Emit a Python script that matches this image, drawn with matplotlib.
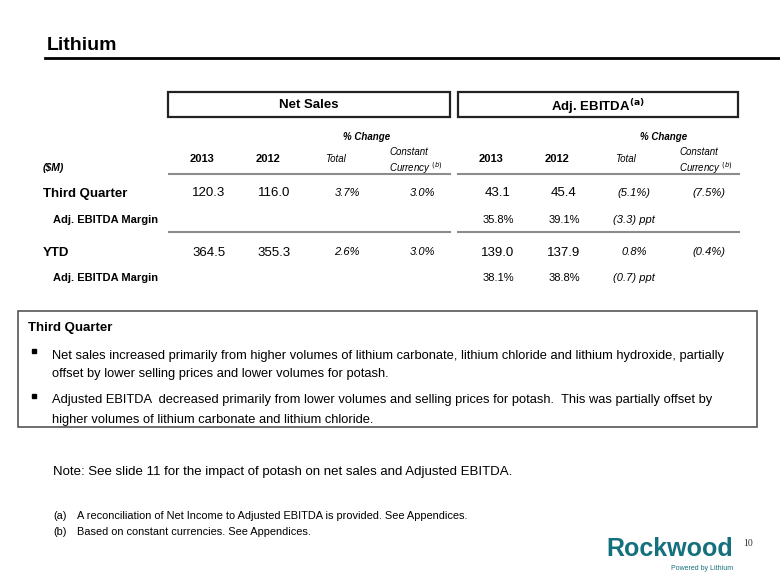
import matplotlib
matplotlib.use("Agg")
import matplotlib.pyplot as plt
from matplotlib.patches import Rectangle

title = "Lithium"
row_labels = ["Third Quarter", "Adj. EBITDA Margin", "YTD", "Adj. EBITDA Margin"]
ns_2013 = ["120.3", "", "364.5", ""]
ns_2012 = ["116.0", "", "355.3", ""]
ns_total = ["3.7%", "", "2.6%", ""]
ns_cc = ["3.0%", "", "3.0%", ""]
eb_2013 = ["43.1", "35.8%", "139.0", "38.1%"]
eb_2012 = ["45.4", "39.1%", "137.9", "38.8%"]
eb_total = ["(5.1%)", "(3.3) ppt", "0.8%", "(0.7) ppt"]
eb_cc = ["(7.5%)", "", "(0.4%)", ""]
box_heading = "Third Quarter"
bullets = [
    ["Net sales increased primarily from higher volumes of lithium carbonate, lithium chloride and lithium hydroxide, partially",
     "offset by lower selling prices and lower volumes for potash."],
    ["Adjusted EBITDA  decreased primarily from lower volumes and selling prices for potash.  This was partially offset by",
     "higher volumes of lithium carbonate and lithium chloride."],
]
note = "Note: See slide 11 for the impact of potash on net sales and Adjusted EBITDA."
footnotes = [("(a)", "A reconciliation of Net Income to Adjusted EBITDA is provided. See Appendices."),
             ("(b)", "Based on constant currencies. See Appendices.")]

ARIAL = "Liberation Sans"

fig = plt.figure(figsize=(7.8, 5.85), dpi=100)
ax = fig.add_axes([0, 0, 1, 1])
ax.set_xlim(0, 780)
ax.set_ylim(585, 0)
ax.axis("off")

def T(x, y, s, size, weight="normal", style="normal", ha="left", family=ARIAL, color="black", va="center_baseline"):
    return ax.text(x, y, s, fontsize=size, fontweight=weight, fontstyle=style, ha=ha, va=va,
                   family=family, color=color)

# Title
T(47, 44, title, 14, "bold")
ax.plot([45, 780], [58, 58], color="black", lw=2)

# Header boxes
ax.add_patch(Rectangle((168, 92), 282, 25, fill=False, ec="#222222", lw=1.6))
ax.add_patch(Rectangle((458, 92), 280, 25, fill=False, ec="#222222", lw=1.6))
T(309, 104, "Net Sales", 9.5, "bold", ha="center")
T(598, 104, r"Adj. EBITDA$^{\mathbf{(a)}}$", 9.5, "bold", ha="center")

# Column headers
T(367, 136, "% Change", 7, "bold", "italic", ha="center")
T(664, 136, "% Change", 7, "bold", "italic", ha="center")
T(43, 167, "($M)", 7.5, "bold", "italic")
for x, s in [(202, "2013"), (268, "2012"), (491, "2013"), (557, "2012")]:
    T(x, 158, s, 8, "bold", ha="center")
T(336, 158, "Total", 7, style="italic", ha="center")
T(626, 158, "Total", 7, style="italic", ha="center")
T(389, 151, "Constant", 7, style="italic")
T(389, 166, r"Currency $^{(b)}$", 7, style="italic")
T(679, 151, "Constant", 7, style="italic")
T(679, 166, r"Currency $^{(b)}$", 7, style="italic")

gray = "#8c8c8c"
for y in (174, 232):
    ax.plot([169, 450], [y, y], color=gray, lw=1.5)
    ax.plot([458, 739], [y, y], color=gray, lw=1.5)

# Rows
row_y = [192, 219, 251, 277]
main = [True, False, True, False]
for i, y in enumerate(row_y):
    if main[i]:
        T(43, y, row_labels[i], 9.5, "bold")
    else:
        T(53, y, row_labels[i], 8, "bold")
    sz = 9.5 if main[i] else 8
    T(209, y, ns_2013[i], sz, ha="center")
    T(274, y, ns_2012[i], sz, ha="center")
    T(347, y, ns_total[i], 8, style="italic", ha="center")
    T(435, y, ns_cc[i], 8, style="italic", ha="right")
    T(498, y, eb_2013[i], sz, ha="center")
    T(564, y, eb_2012[i], sz, ha="center")
    T(634, y, eb_total[i], 8, style="italic", ha="center")
    T(725, y, eb_cc[i], 8, style="italic", ha="right")

# Commentary box
ax.add_patch(Rectangle((18, 311), 739, 116, fill=False, ec="#555555", lw=1.2))
T(28, 327, box_heading, 9.5, "bold")
line_ys = [[354, 373], [399, 418]]
for b, ys in zip(bullets, line_ys):
    ax.plot([34], [ys[0] - 3], marker="s", ms=2.5, color="black")
    for line, y in zip(b, ys):
        T(52, y, line, 9.3)

# Note and footnotes
T(53, 470, note, 9.5)
for (lab, txt), y in zip(footnotes, [515, 531]):
    T(53, y, lab, 7.9)
    T(77, y, txt, 7.9)

# Logo + page number
T(670, 547, "Rockwood", 18, "bold", ha="center", color="#14707c")
T(733, 568, "Powered by Lithium", 5, ha="right", color="#14707c")
T(748, 543, "10", 7, ha="center", family="Liberation Serif", color="#333333")

fig.savefig("out.png", dpi=100)
